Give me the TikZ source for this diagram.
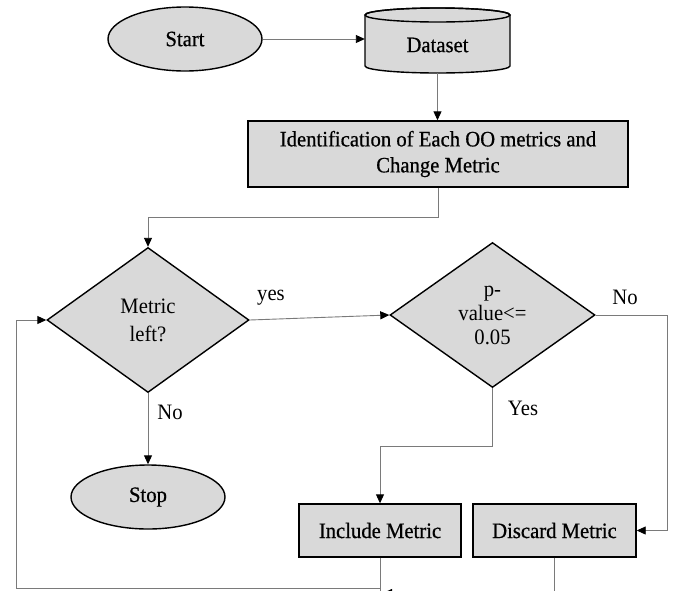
\documentclass[tikz,border=0pt]{standalone}
\usepackage{fontspec}
\setmainfont{Liberation Serif}[FakeStretch=0.94]
\newfontfamily\heavyfont{Liberation Serif}[FakeStretch=0.94, FakeBold=0.6]
\usetikzlibrary{shapes.geometric,arrows.meta}
\definecolor{boxgray}{HTML}{D9D9D9}
\definecolor{linegray}{HTML}{7A7A7A}
\begin{document}
\begin{tikzpicture}[x=1pt,y=-1pt,
  every node/.style={font=\fontsize{22}{26}\selectfont, inner sep=0pt},
  heavy/.style={font=\heavyfont\fontsize{22}{26}\selectfont},
  shapebox/.style={draw=black, line width=1.4pt, fill=boxgray},
  conn/.style={draw=linegray, line width=0.9pt},
  arr/.style={conn, -{Triangle[length=9pt,width=8pt,color=black]}}]
\useasboundingbox (0,0) rectangle (674,590);
\clip (0,0) rectangle (674,590);
% Start
\node[shapebox, heavy, ellipse, minimum width=154pt, minimum height=64pt] (start) at (185,39) {Start};
% Dataset cylinder
\path[shapebox] (365,15) -- (365,66) arc[start angle=180, end angle=0, x radius=72.5, y radius=7]
  -- (510,15) arc[start angle=0, end angle=-180, x radius=72.5, y radius=7] -- cycle;
\draw[line width=1.4pt] (437.5,15) ellipse [x radius=72.5, y radius=7];
\node[heavy, minimum width=145pt, minimum height=56pt] (ds) at (437.5,45) {Dataset};
% Identification
\node[shapebox, heavy, rectangle, minimum width=380pt, minimum height=66pt, align=center] (idf) at (438,154)
  {Identification of Each OO metrics and\\Change Metric};
% decisions
\node[shapebox, diamond, aspect=1.4, minimum width=202pt, minimum height=145pt, align=center,
  font=\fontsize{22}{28}\selectfont] (d1) at (148,320) {Metric\\left?};
\node[shapebox, diamond, aspect=1.4, minimum width=205pt, minimum height=145pt, align=center,
  font=\fontsize{22}{24}\selectfont] (d2) at (492.5,315) {p-\\value<=\\0.05};
% terminals and boxes
\node[shapebox, heavy, ellipse, minimum width=154pt, minimum height=64pt] (stop) at (148,497) {Stop};
\node[shapebox, heavy, rectangle, minimum width=162pt, minimum height=53pt] (inc) at (380,530.5) {Include Metric};
\node[shapebox, heavy, rectangle, minimum width=163pt, minimum height=53pt] (dis) at (554.5,530.5) {Discard Metric};
% labels
\node (lyes) at (271,298) {yes};
\node (lno1) at (170,412) {No};
\node (lno2) at (625,297) {No};
\node (lYes) at (523,408) {Yes};
% connectors
\draw[arr] (start.east) -- (ds.west |- start.east);
\draw[arr] (ds.south) -- (ds.south |- idf.north);
\draw[arr] (idf.south) -- ++(0,30) -| (d1.north);
\draw[arr] (d1.east) -- (d2.west);
\draw[arr] (d1.south) -- (stop.north);
\draw[arr] (d2.south) -- ++(0,58) -| (inc.north);
\draw[arr] (d2.east) -- ++(72,0) |- (dis.east);
\coordinate (lb) at (16,588);
\coordinate (ib) at (380,588);
\draw[conn] (inc.south) -- (380,592);
\draw[arr] (ib) -- (lb) |- (d1.west);
\coordinate (db) at (383,593);
\draw[arr] (dis.south) |- (db);
\end{tikzpicture}
\end{document}
